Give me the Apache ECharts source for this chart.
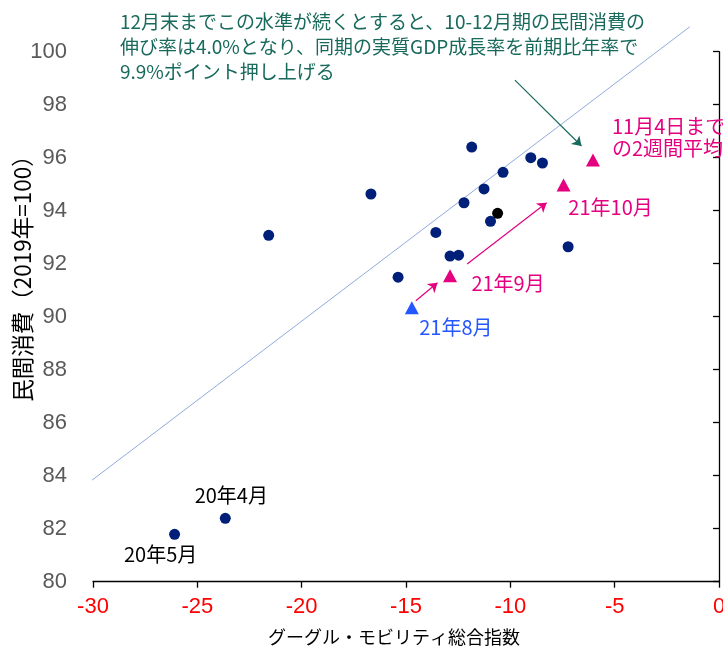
<!DOCTYPE html>
<html><head><meta charset="utf-8">
<script src="https://cdn.jsdelivr.net/npm/echarts@6/dist/echarts.min.js"></script>
<style>html,body{margin:0;padding:0;background:#fff;overflow:hidden}#c{width:723px;height:649px}</style>
</head><body><div id="c"></div>
<script>
// Monthly points: [mobility index, private consumption]
const navyPoints = [
  [-23.66, 82.39], [-26.09, 81.79], [-21.58, 93.07], [-16.68, 94.63],
  [-15.38, 91.49], [-13.57, 93.18], [-12.89, 92.29], [-12.48, 92.32],
  [-12.22, 94.30], [-11.85, 96.40], [-11.26, 94.82], [-10.95, 93.60],
  [-10.35, 95.45], [-9.02, 96.00], [-8.46, 95.80], [-7.23, 92.64]
];
const blackPoint = [[-10.61, 93.90]];
const aug21 = [[-14.72, 90.34]];
const pinkPoints = [[-12.89, 91.55], [-7.45, 94.97], [-6.04, 95.91]];
const trendLine = [[-30.25, 83.71], [-1.4, 100.94]];
const xTicks = [-30, -25, -20, -15, -10, -5, 0];
const yTicks = [80, 82, 84, 86, 88, 90, 92, 94, 96, 98, 100];
// arrows [from, to]
const arrowAugSep = [[-14.53, 90.60], [-13.49, 91.28]];
const arrowSepOct = [[-12.07, 91.99], [-8.26, 94.30]];
const arrowNote = [[-9.78, 98.93], [-6.59, 96.44]];

const JP = '"Noto Sans CJK JP", sans-serif';
const PINK = '#e4007f', NAVY = '#001f78', GREEN = '#186a5c', BLUE = '#2457ff';

const chart = echarts.init(document.getElementById('c'), null, {renderer: 'canvas', width: 723, height: 649});
chart.setOption({
  animation: false,
  grid: {left: 93, right: 4, top: 51.7, bottom: 67.3, containLabel: false, outerBoundsMode: 'none'},
  xAxis: {
    type: 'value', min: xTicks[0], max: xTicks[xTicks.length - 1], interval: 5,
    axisLine: {show: true, onZero: false, lineStyle: {color: '#000', width: 1.3}},
    axisTick: {show: true, length: 6, lineStyle: {color: '#000', width: 1.3}},
    axisLabel: {
      margin: 14, fontSize: 22, fontFamily: 'Liberation Sans, Arial, sans-serif', hideOverlap: false,
      color: function (v) { return v === 0 ? '#595959' : '#ff0000'; }
    },
    splitLine: {show: false}
  },
  yAxis: [{
    type: 'value', min: yTicks[0], max: yTicks[yTicks.length - 1], interval: 2, position: 'left',
    axisLine: {show: false}, axisTick: {show: false},
    axisLabel: {margin: 26, fontSize: 22, color: '#595959', fontFamily: 'Liberation Sans, Arial, sans-serif'},
    splitLine: {show: false}
  }, {
    type: 'value', min: yTicks[0], max: yTicks[yTicks.length - 1], interval: 2, position: 'right',
    axisLine: {show: true, lineStyle: {color: '#000', width: 1.3}},
    axisTick: {show: true, inside: true, length: 6, lineStyle: {color: '#000', width: 1.3}},
    axisLabel: {show: false}, splitLine: {show: false}
  }],
  graphic: [
    {type: 'text', left: 120, top: 9, style: {
      text: '12月末までこの水準が続くとすると、10-12月期の民間消費の\n伸び率は4.0%となり、同期の実質GDP成長率を前期比年率で\n9.9%ポイント押し上げる',
      font: '19px ' + JP, lineHeight: 25, fill: GREEN}},
    {type: 'text', x: 22, y: 273, rotation: Math.PI / 2, style: {
      text: '民間消費（2019年=100）', font: '22.5px ' + JP, fill: '#000', align: 'center', verticalAlign: 'middle'}},
    {type: 'text', x: 394, y: 637, style: {
      text: 'グーグル・モビリティ総合指数', font: '18px ' + JP, fill: '#000', align: 'center', verticalAlign: 'middle'}}
  ],
  series: [
    {type: 'line', data: trendLine, showSymbol: false, symbol: 'none', clip: false, silent: true,
     lineStyle: {color: '#8faadc', width: 1}, z: 1},
    {type: 'scatter', data: navyPoints.map(function (p, i) {
      const item = {value: p};
      if (i === 0) item.label = {show: true, formatter: '20年4月', offset: [6, -23]};
      if (i === 1) item.label = {show: true, formatter: '20年5月', offset: [-14, 20]};
      return item;
    }), symbol: 'circle', symbolSize: 11, itemStyle: {color: NAVY, opacity: 1},
     label: {show: false, position: 'inside', color: '#000', fontSize: 20, fontFamily: JP}, z: 3},
    {type: 'scatter', data: blackPoint, symbol: 'circle', symbolSize: 11, itemStyle: {color: '#000', opacity: 1}, z: 4},
    {type: 'scatter', data: aug21.map(function (p) {
      return {value: p, label: {show: true, formatter: '21年8月', offset: [44, 20]}};
    }), symbol: 'triangle', symbolSize: [14, 13], itemStyle: {color: BLUE, opacity: 1},
     label: {position: 'inside', color: BLUE, fontSize: 20, fontFamily: JP}, z: 4,
     markLine: {silent: true, symbol: ['none', 'arrow'], symbolSize: 9, label: {show: false},
       lineStyle: {type: 'solid'}, animation: false,
       data: [
         [{coord: arrowAugSep[0], lineStyle: {color: PINK, width: 1.2}}, {coord: arrowAugSep[1]}],
         [{coord: arrowSepOct[0], lineStyle: {color: PINK, width: 1.2}}, {coord: arrowSepOct[1]}],
         [{coord: arrowNote[0], lineStyle: {color: GREEN, width: 1.2}}, {coord: arrowNote[1]}]
       ]}},
    {type: 'scatter', data: pinkPoints.map(function (p, i) {
      const labels = [
        {show: true, formatter: '21年9月', offset: [58, 8]},
        {show: true, formatter: '21年10月', offset: [47, 22]},
        {show: true, formatter: '11月4日まで\nの2週間平均', offset: [19, -23], align: 'left', lineHeight: 22}
      ];
      return {value: p, label: labels[i]};
    }), symbol: 'triangle', symbolSize: [14, 13], itemStyle: {color: PINK, opacity: 1},
     label: {position: 'inside', color: PINK, fontSize: 20, fontFamily: JP}, z: 4}
  ]
});
</script></body></html>
